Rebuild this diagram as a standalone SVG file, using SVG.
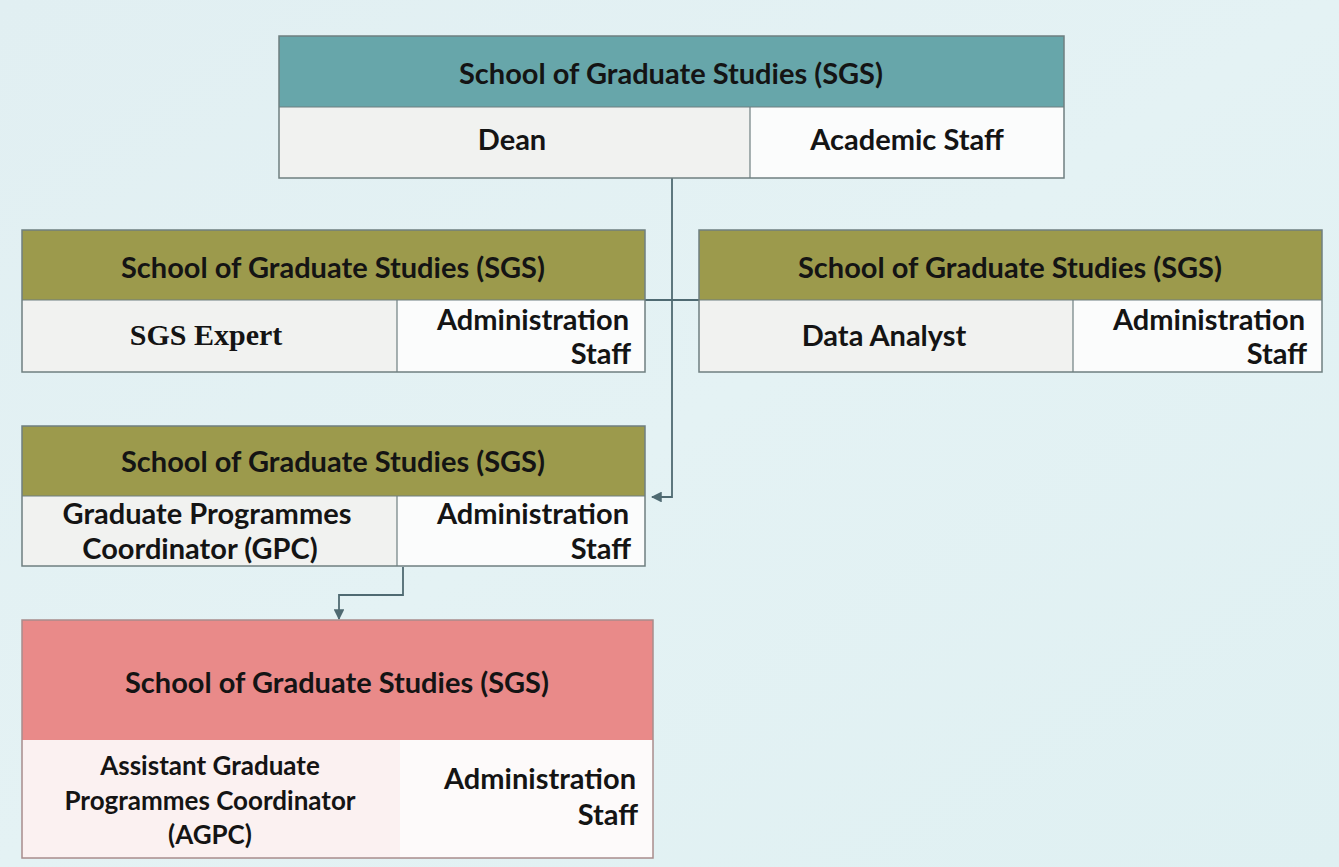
<svg xmlns="http://www.w3.org/2000/svg" width="1339" height="867" viewBox="0 0 1339 867">
  <style>
    .hdr-teal { fill: #67a6aa; }
    .hdr-olive { fill: #9c9a4c; }
    .hdr-rose { fill: #e98a89; }
    .cell-l { fill: #f1f2f0; }
    .cell-r { fill: #fbfcfc; }
    .cell-l5 { fill: #fbf1f1; }
    .cell-r5 { fill: #fdfafa; }
    .frame { fill: none; stroke: #6f7f80; stroke-width: 1.5; }
    .div { stroke: #6f7f80; stroke-width: 1.2; }
    text { font-family: Lato, "Open Sans", "Liberation Sans", sans-serif; font-weight: bold; fill: #141414; }
    .h { font-size: 29px; text-anchor: middle; }
    .c { font-size: 29px; text-anchor: middle; }
    .r { font-size: 29px; text-anchor: end; }
    .s { font-size: 26px; text-anchor: middle; }
    .serif { font-family: "Liberation Serif", serif; font-size: 30px; }
    .conn { fill: none; stroke: #4f6a72; stroke-width: 1.8; }
  </style>
  <defs>
    <linearGradient id="bg" x1="0" y1="0" x2="1" y2="1">
      <stop offset="0" stop-color="#e1eff2"/>
      <stop offset="0.5" stop-color="#e4f2f4"/>
      <stop offset="1" stop-color="#dff0f2"/>
    </linearGradient>
    <marker id="arr" viewBox="0 0 10 10" refX="9" refY="5" markerWidth="6" markerHeight="6" orient="auto-start-reverse">
      <path d="M0,0 L10,5 L0,10 z" fill="#4f6a72"/>
    </marker>
  </defs>

  <rect width="1339" height="867" fill="url(#bg)"/>

  <!-- connectors -->
  <g id="connectors">
    <path class="conn" d="M672,178 V497 H652" marker-end="url(#arr)"/>
    <path class="conn" d="M645,300 H700"/>
    <path class="conn" d="M403,567 V595 H339 V619" marker-end="url(#arr)"/>
  </g>

  <!-- top: Dean / Academic Staff -->
  <g id="node-dean">
    <rect class="hdr-teal" x="279" y="36" width="785" height="71"/>
    <rect class="cell-l" x="279" y="107" width="471" height="71"/>
    <rect class="cell-r" x="750" y="107" width="314" height="71"/>
    <rect class="frame" x="279" y="36" width="785" height="142"/>
    <line class="div" x1="279" y1="107" x2="1064" y2="107"/>
    <line class="div" x1="750" y1="107" x2="750" y2="178"/>
    <text class="h" x="671" y="84">School of Graduate Studies (SGS)</text>
    <text class="c" x="512" y="150">Dean</text>
    <text class="c" x="907" y="150">Academic Staff</text>
  </g>

  <!-- SGS Expert -->
  <g id="node-expert">
    <rect class="hdr-olive" x="22" y="230" width="623" height="70"/>
    <rect class="cell-l" x="22" y="300" width="375" height="72"/>
    <rect class="cell-r" x="397" y="300" width="248" height="72"/>
    <rect class="frame" x="22" y="230" width="623" height="142"/>
    <line class="div" x1="22" y1="300" x2="645" y2="300"/>
    <line class="div" x1="397" y1="300" x2="397" y2="372"/>
    <text class="h" x="333" y="278">School of Graduate Studies (SGS)</text>
    <text class="c serif" x="206" y="345">SGS Expert</text>
    <text class="r" x="629" y="330">Administration</text>
    <text class="r" x="631" y="364">Staff</text>
  </g>

  <!-- Data Analyst -->
  <g id="node-analyst">
    <rect class="hdr-olive" x="699" y="230" width="623" height="70"/>
    <rect class="cell-l" x="699" y="300" width="374" height="72"/>
    <rect class="cell-r" x="1073" y="300" width="249" height="72"/>
    <rect class="frame" x="699" y="230" width="623" height="142"/>
    <line class="div" x1="699" y1="300" x2="1322" y2="300"/>
    <line class="div" x1="1073" y1="300" x2="1073" y2="372"/>
    <text class="h" x="1010" y="278">School of Graduate Studies (SGS)</text>
    <text class="c" x="884" y="346">Data Analyst</text>
    <text class="r" x="1305" y="330">Administration</text>
    <text class="r" x="1307" y="364">Staff</text>
  </g>

  <!-- GPC -->
  <g id="node-gpc">
    <rect class="hdr-olive" x="22" y="426" width="623" height="70"/>
    <rect class="cell-l" x="22" y="496" width="375" height="70"/>
    <rect class="cell-r" x="397" y="496" width="248" height="70"/>
    <rect class="frame" x="22" y="426" width="623" height="140"/>
    <line class="div" x1="22" y1="496" x2="645" y2="496"/>
    <line class="div" x1="397" y1="496" x2="397" y2="566"/>
    <text class="h" x="333" y="472">School of Graduate Studies (SGS)</text>
    <text class="c" x="207" y="524">Graduate Programmes</text>
    <text class="c" x="200" y="559">Coordinator (GPC)</text>
    <text class="r" x="629" y="524">Administration</text>
    <text class="r" x="631" y="559">Staff</text>
  </g>

  <!-- AGPC -->
  <g id="node-agpc">
    <rect class="hdr-rose" x="22" y="620" width="631" height="120"/>
    <rect class="cell-l5" x="22" y="740" width="378" height="118"/>
    <rect class="cell-r5" x="400" y="740" width="253" height="118"/>
    <rect class="frame" x="22" y="620" width="631" height="238" style="stroke:#a88c8c"/>
    <text class="h" x="337" y="693">School of Graduate Studies (SGS)</text>
    <text class="s" x="210" y="775">Assistant Graduate</text>
    <text class="s" x="210" y="810">Programmes Coordinator</text>
    <text class="s" x="210" y="844">(AGPC)</text>
    <text class="r" x="636" y="789">Administration</text>
    <text class="r" x="638" y="825">Staff</text>
  </g>
</svg>
